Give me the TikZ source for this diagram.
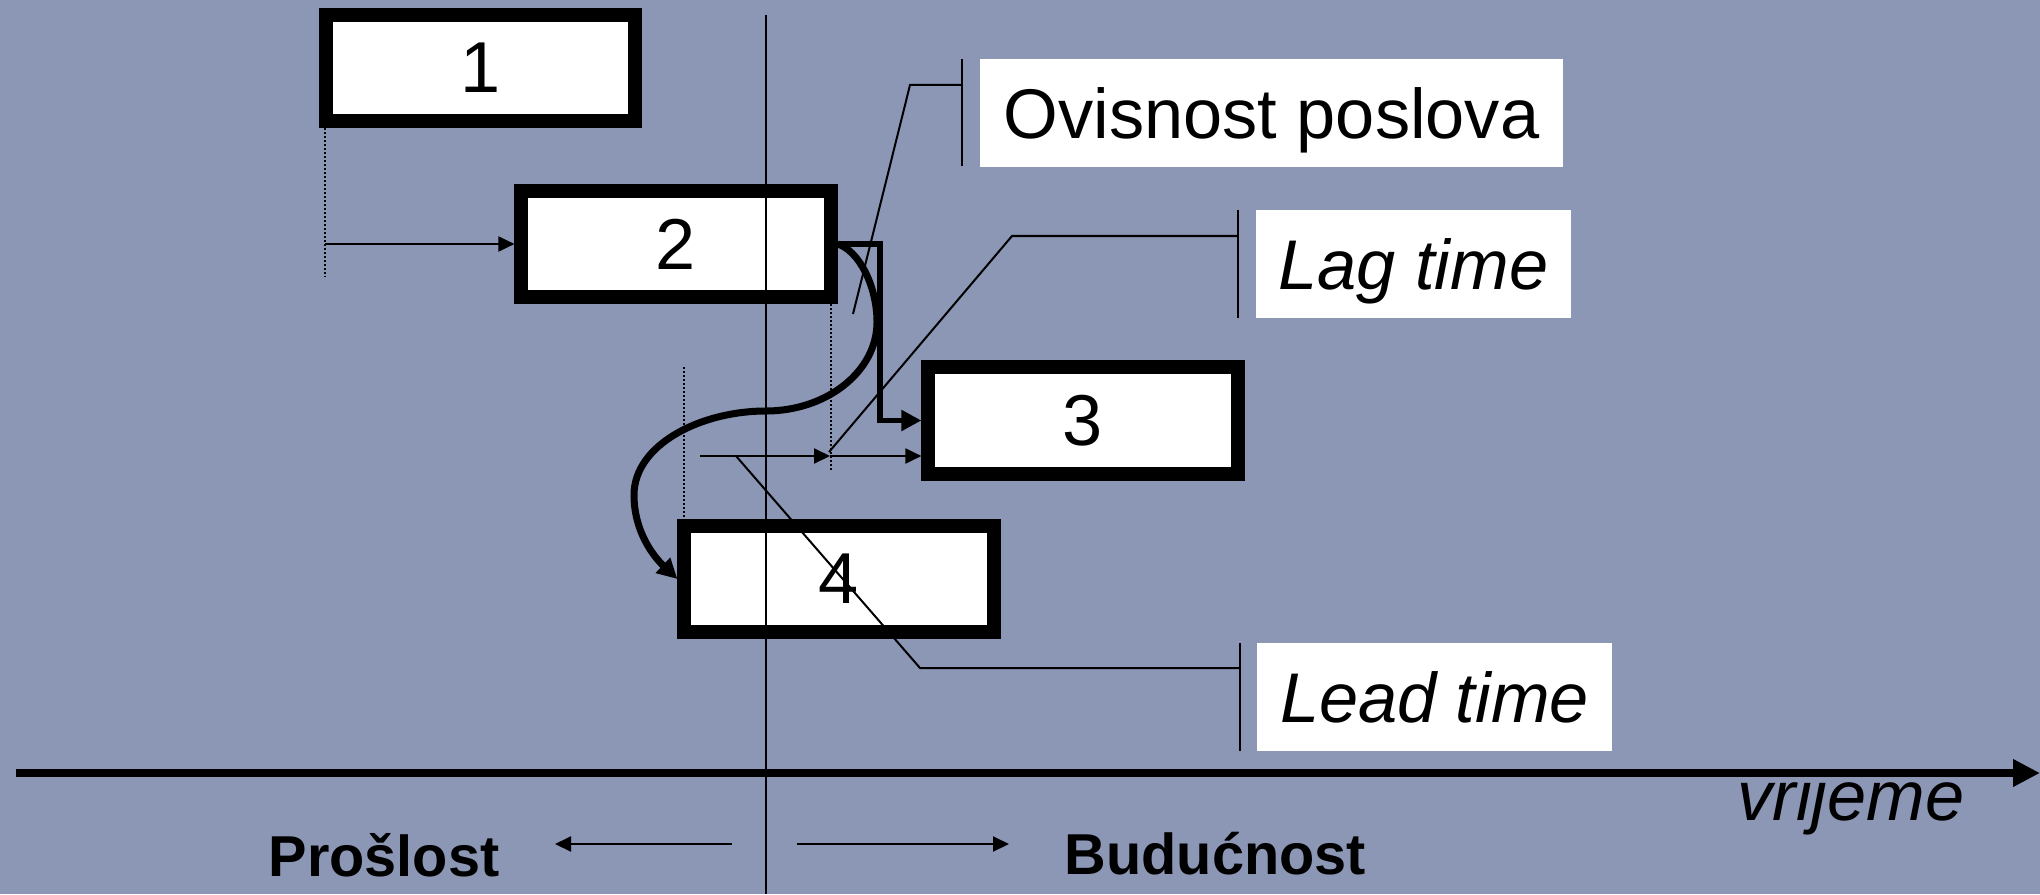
\documentclass[tikz,border=0pt]{standalone}
\usepackage{fontspec}
\setmainfont{Liberation Sans}
\usetikzlibrary{arrows.meta}
\definecolor{bg}{RGB}{140,150,181}
\begin{document}
\begin{tikzpicture}[x=0.01cm,y=-0.01cm,
  task/.style={draw=black, fill=white, line width=0.14cm, minimum width=3.09cm, minimum height=1.06cm, inner sep=0pt, font=\fontsize{20.5pt}{24pt}\selectfont},
  lbl/.style={fill=white, inner sep=0pt, minimum height=1.08cm, text height=14.3pt, text depth=0pt, font=\fontsize{20pt}{24pt}\selectfont},
  thinline/.style={line width=0.02cm},
  dots/.style={line width=0.02cm, dash pattern=on 0.02cm off 0.02cm},
  sarrow/.style={-{Triangle[length=0.16cm,width=0.15cm]}},
  barrow/.style={line width=0.07cm, -{Triangle[length=0.2cm,width=0.2cm]}},
]
\fill[bg] (0,0) rectangle (2040,894);
\useasboundingbox (0,0) rectangle (2040,894);

% task boxes
\node[task] (b1) at (480.5,68) {1};
\node[task] (b2) at (676,244) {2};
\node[task] (b3) at (1083,420.5) {3};
\node[task] (b4) at (839,579) {4};

% label boxes
\node[lbl, minimum width=5.83cm] (lo) at (1271.5,113) {Ovisnost poslova};
\node[lbl, minimum width=3.15cm] (lg) at (1413.5,264) {\itshape Lag time};
\node[lbl, minimum width=3.55cm] (ld) at (1434.5,697) {\itshape Lead time};

% time axis
\coordinate (ax0) at (16,773);
\coordinate (ax1) at (2040,773);
\draw[line width=0.08cm, -{Triangle[length=0.27cm,width=0.26cm]}] (ax0) -- (ax1);
\node[anchor=base west, inner sep=0pt, font=\fontsize{20pt}{24pt}\selectfont\itshape] (vr) at (1737,820) {vrijeme};

% now line
\coordinate (nt) at (766,15);
\coordinate (nb) at (766,894);
\draw[line width=0.025cm] (nt) -- (nb);

% past / future
\node[anchor=base west, inner sep=0pt, font=\fontsize{16.4pt}{20pt}\selectfont\bfseries] (pr) at (268,876) {Prošlost};
\node[anchor=base west, inner sep=0pt, font=\fontsize{16.4pt}{20pt}\selectfont\bfseries] (bu) at (1064,874) {Budućnost};
\coordinate (pa0) at (732,844);
\coordinate (pa1) at (555,844);
\coordinate (ba0) at (797,844);
\coordinate (ba1) at (1009,844);
\draw[thinline, sarrow] (pa0) -- (pa1);
\draw[thinline, sarrow] (ba0) -- (ba1);

% dotted guides
\coordinate (d1a) at (325,128);
\coordinate (d1b) at (325,277);
\coordinate (d2a) at (831,304);
\coordinate (d2b) at (831,472);
\coordinate (d4a) at (684,367);
\coordinate (d4b) at (684,520);
\draw[dots] (d1a) -- (d1b);
\draw[dots] (d2a) -- (d2b);
\draw[dots] (d4a) -- (d4b);

% 1 -> 2
\draw[thinline, sarrow] (d1b |- b2.west) -- (b2.west);

% 2 -> 3 elbow
\coordinate (el) at (880,244);
\draw[line width=0.055cm, -{Triangle[length=0.2cm,width=0.2cm]}] (b2.east) -- (el) |- (b3.west);

% 2 -> 4 curve
\draw[barrow] (b2.east) .. controls (858,250) and (877,285) .. (877,322)
  .. controls (877,372) and (826,411) .. (766,411)
  .. controls (700,411) and (634,445) .. (634,495)
  .. controls (634,530) and (652,555) .. (b4.west);

% lag / lead arrows
\coordinate (lg0) at (700,456);
\coordinate (lgm) at (830,456);
\draw[thinline, sarrow] (lg0) -- (lgm);
\draw[thinline, sarrow] (lgm) -- (b3.west |- lgm);

% leader: Ovisnost poslova
\coordinate (oa) at (962,59);
\coordinate (ob) at (962,166);
\coordinate (oc) at (962,85);
\coordinate (od) at (910,85);
\coordinate (oe) at (853,314);
\draw[line width=0.025cm] (oa) -- (ob);
\draw[thinline] (oc) -- (od) -- (oe);

% leader: Lag time
\coordinate (ga) at (1238,210);
\coordinate (gb) at (1238,318);
\coordinate (gc) at (1238,236);
\coordinate (gd) at (1012,236);
\coordinate (ge) at (829,452);
\draw[line width=0.025cm] (ga) -- (gb);
\draw[thinline] (gc) -- (gd) -- (ge);

% leader: Lead time
\coordinate (ea) at (1240,643);
\coordinate (eb) at (1240,751);
\coordinate (ec) at (1240,668);
\coordinate (ed) at (920,668);
\coordinate (ee) at (736,456);
\draw[line width=0.025cm] (ea) -- (eb);
\draw[thinline] (ec) -- (ed) -- (ee);
\end{tikzpicture}
\end{document}
